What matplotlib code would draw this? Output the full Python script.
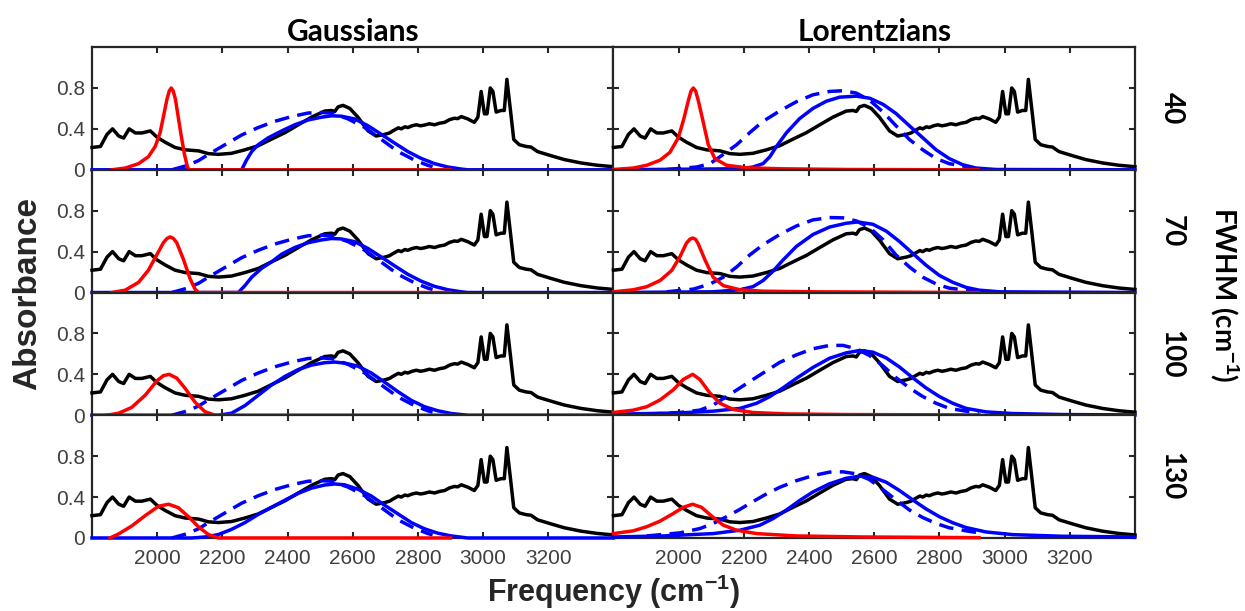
import matplotlib.pyplot as plt

plt.rcParams["font.family"] = ["Liberation Sans", "DejaVu Sans"]
plt.rcParams["mathtext.fontset"] = "custom"
plt.rcParams["mathtext.rm"] = "Liberation Sans"
plt.rcParams["mathtext.bf"] = "Liberation Sans:bold"

# Experimental spectrum (same trace in every panel)
exp_freq = [1800, 1826, 1846, 1863, 1882, 1897, 1914, 1933, 1953, 1979, 1999, 2024, 2055, 2086,
            2127, 2157, 2188, 2228, 2269, 2310, 2351, 2392, 2433, 2473, 2514, 2535, 2545, 2555, 2570,
            2591, 2616, 2647, 2672, 2698, 2713, 2723, 2740, 2749, 2760, 2769, 2782, 2795, 2808, 2820,
            2835, 2851, 2866, 2882, 2897, 2912, 2922, 2933, 2953, 2973, 2984, 2994, 3004, 3012, 3022,
            3030, 3040, 3055, 3065, 3073, 3084, 3094, 3111, 3132, 3147, 3167, 3208, 3249, 3300, 3351, 3400]
exp_abs = [0.218, 0.228, 0.346, 0.40, 0.33, 0.31, 0.40, 0.36, 0.36, 0.38, 0.32, 0.27, 0.218, 0.195,
           0.185, 0.158, 0.151, 0.161, 0.195, 0.235, 0.30, 0.363, 0.44, 0.514, 0.574, 0.58, 0.57, 0.615, 0.63,
           0.60, 0.514, 0.38, 0.33, 0.346, 0.36, 0.38, 0.41, 0.40, 0.42, 0.413, 0.43, 0.44, 0.43, 0.437,
           0.45, 0.44, 0.455, 0.464, 0.49, 0.504, 0.50, 0.52, 0.497, 0.464, 0.514, 0.766, 0.547, 0.547, 0.80,
           0.766, 0.564, 0.58, 0.58, 0.884, 0.58, 0.296, 0.245, 0.228, 0.222, 0.178, 0.138, 0.10, 0.067, 0.044, 0.03]

fwhm_labels = ["40", "70", "100", "130"]

# --- Gaussians ---
g40_red_f = [1861, 1902, 1943, 1973, 1994, 2009, 2022, 2030, 2037, 2043, 2049, 2056, 2063, 2073,
             2084, 2093, 2098, 2900]
g40_red_a = [0, 0.017, 0.06, 0.128, 0.228, 0.363, 0.565, 0.69, 0.77, 0.80, 0.77, 0.69, 0.547, 0.346,
             0.145, 0.027, 0, 0]
g70_red_f = [1861, 1902, 1943, 1973, 1999, 2019, 2030, 2040, 2050, 2060, 2081, 2101, 2116, 2127, 2900]
g70_red_a = [0, 0.023, 0.10, 0.218, 0.37, 0.487, 0.528, 0.544, 0.528, 0.487, 0.32, 0.134, 0.034, 0, 0]
g100_red_f = [1845, 1882, 1922, 1963, 1999, 2019, 2037, 2060, 2086, 2116, 2147, 2178, 2900]
g100_red_a = [0, 0.02, 0.077, 0.195, 0.336, 0.387, 0.40, 0.363, 0.262, 0.128, 0.034, 0, 0]
g130_red_f = [1855, 1882, 1922, 1963, 2004, 2035, 2065, 2096, 2127, 2157, 2188, 2900]
g130_red_a = [0, 0.04, 0.118, 0.218, 0.31, 0.33, 0.296, 0.208, 0.108, 0.034, 0, 0]

g40_blue_f = [1800, 2259, 2274, 2290, 2310, 2341, 2382, 2422, 2463, 2504, 2535, 2565, 2606, 2647,
              2688, 2728, 2769, 2810, 2851, 2892, 2933, 2953, 3400]
g40_blue_a = [0, 0, 0.094, 0.178, 0.245, 0.313, 0.38, 0.44, 0.487, 0.514, 0.528, 0.524, 0.497, 0.43,
              0.346, 0.262, 0.178, 0.111, 0.06, 0.027, 0.007, 0, 0]
g70_blue_f = [1800, 2249, 2269, 2290, 2320, 2351, 2382, 2422, 2463, 2504, 2535, 2565, 2606, 2647,
              2688, 2728, 2769, 2810, 2851, 2892, 2933, 2953, 3400]
g70_blue_a = [0, 0, 0.067, 0.15, 0.235, 0.30, 0.375, 0.44, 0.487, 0.514, 0.528, 0.524, 0.497, 0.43,
              0.346, 0.262, 0.178, 0.111, 0.06, 0.027, 0.007, 0, 0]
g100_blue_f = [1800, 2188, 2228, 2269, 2310, 2351, 2392, 2433, 2473, 2514, 2545, 2575, 2616, 2657,
               2698, 2739, 2780, 2820, 2861, 2902, 2953, 3400]
g100_blue_a = [0, 0, 0.02, 0.094, 0.195, 0.296, 0.38, 0.447, 0.49, 0.514, 0.52, 0.51, 0.48, 0.413,
               0.323, 0.23, 0.145, 0.084, 0.044, 0.017, 0, 0]
g130_blue_f = [1800, 2106, 2147, 2188, 2228, 2269, 2310, 2351, 2392, 2433, 2473, 2514, 2545, 2575,
               2616, 2657, 2698, 2739, 2780, 2820, 2861, 2902, 2953, 3400]
g130_blue_a = [0, 0, 0.01, 0.034, 0.084, 0.15, 0.23, 0.30, 0.37, 0.437, 0.487, 0.518, 0.528, 0.52,
               0.477, 0.41, 0.32, 0.235, 0.15, 0.09, 0.047, 0.02, 0, 0]

# the dashed Gaussian reference is the same for every width
g_dash_f = [2045, 2090, 2127, 2157, 2208, 2259, 2310, 2361, 2412, 2463, 2504, 2535, 2586, 2637,
            2688, 2739, 2790, 2830, 2845]
g_dash_a = [0.0, 0.04, 0.09, 0.15, 0.245, 0.34, 0.413, 0.474, 0.52, 0.555, 0.56, 0.555, 0.497, 0.413,
            0.296, 0.178, 0.094, 0.044, 0.03]

# --- Lorentzians ---
l40_red_f = [1800, 1861, 1902, 1943, 1973, 1999, 2016, 2030, 2038, 2045, 2052, 2060, 2073, 2091,
             2111, 2147, 2208, 2310, 2514, 2920]
l40_red_a = [0.003, 0.017, 0.044, 0.094, 0.17, 0.313, 0.50, 0.68, 0.77, 0.80, 0.77, 0.68, 0.50, 0.245,
             0.11, 0.044, 0.02, 0.01, 0.003, 0]
l70_red_f = [1800, 1861, 1902, 1943, 1979, 2004, 2024, 2034, 2043, 2052, 2060, 2081, 2106, 2137,
             2188, 2259, 2412, 2920]
l70_red_a = [0.007, 0.027, 0.057, 0.117, 0.217, 0.35, 0.483, 0.52, 0.533, 0.52, 0.477, 0.317, 0.15,
             0.067, 0.027, 0.013, 0.007, 0]
l100_red_f = [1800, 1861, 1902, 1943, 1984, 2014, 2043, 2065, 2096, 2127, 2167, 2228, 2331, 2514, 2922]
l100_red_a = [0.027, 0.05, 0.083, 0.15, 0.25, 0.35, 0.40, 0.35, 0.217, 0.117, 0.057, 0.027, 0.013,
              0.007, 0.003]
l130_red_f = [1800, 1861, 1902, 1943, 1984, 2014, 2043, 2070, 2101, 2137, 2178, 2239, 2361, 2565, 2922]
l130_red_a = [0.043, 0.07, 0.11, 0.165, 0.24, 0.30, 0.33, 0.30, 0.215, 0.125, 0.076, 0.043, 0.02,
              0.01, 0.003]

l40_blue_f = [1800, 2188, 2228, 2259, 2280, 2300, 2331, 2371, 2412, 2453, 2494, 2545, 2586, 2627,
              2667, 2708, 2749, 2790, 2830, 2871, 2912, 2973, 3400]
l40_blue_a = [0, 0.01, 0.027, 0.06, 0.128, 0.228, 0.363, 0.50, 0.60, 0.67, 0.71, 0.72, 0.70, 0.64,
              0.55, 0.43, 0.313, 0.195, 0.11, 0.05, 0.017, 0.003, 0]
l70_blue_f = [1800, 2106, 2188, 2228, 2259, 2290, 2320, 2361, 2412, 2463, 2514, 2550, 2596, 2637,
              2677, 2718, 2759, 2800, 2841, 2882, 2922, 2984, 3400]
l70_blue_a = [0, 0.007, 0.027, 0.057, 0.117, 0.21, 0.317, 0.45, 0.567, 0.64, 0.677, 0.69, 0.667, 0.60,
              0.50, 0.383, 0.267, 0.167, 0.10, 0.05, 0.023, 0.007, 0]
l100_blue_f = [1800, 2004, 2106, 2188, 2239, 2280, 2320, 2361, 2412, 2463, 2514, 2555, 2596, 2637,
               2677, 2718, 2759, 2800, 2841, 2882, 2943, 3024, 3177, 3400]
l100_blue_a = [0.01, 0.023, 0.04, 0.067, 0.117, 0.183, 0.267, 0.36, 0.467, 0.557, 0.61, 0.633, 0.617,
               0.56, 0.473, 0.367, 0.267, 0.183, 0.117, 0.067, 0.033, 0.017, 0.007, 0.003]
l130_blue_f = [1800, 1953, 2106, 2188, 2249, 2290, 2331, 2371, 2412, 2463, 2514, 2555, 2596, 2637,
               2677, 2718, 2759, 2800, 2841, 2882, 2943, 3024, 3177, 3400]
l130_blue_a = [0.01, 0.02, 0.043, 0.076, 0.125, 0.19, 0.274, 0.366, 0.45, 0.53, 0.584, 0.604, 0.594,
               0.545, 0.465, 0.373, 0.284, 0.208, 0.149, 0.102, 0.059, 0.033, 0.017, 0.01]

l40_dash_f = [1963, 2055, 2096, 2137, 2178, 2218, 2259, 2310, 2361, 2412, 2463, 2504, 2545, 2586,
              2627, 2667, 2708, 2749, 2790, 2830, 2871, 2902]
l40_dash_a = [0.003, 0.027, 0.06, 0.15, 0.245, 0.363, 0.474, 0.575, 0.665, 0.733, 0.766, 0.773, 0.75,
              0.68, 0.565, 0.43, 0.296, 0.195, 0.11, 0.06, 0.037, 0.023]
l70_dash_f = [1963, 2045, 2096, 2137, 2178, 2218, 2259, 2310, 2361, 2412, 2463, 2504, 2545, 2586,
              2627, 2667, 2708, 2749, 2790, 2830, 2882, 2922]
l70_dash_a = [0.007, 0.033, 0.083, 0.15, 0.25, 0.367, 0.467, 0.567, 0.65, 0.71, 0.733, 0.73, 0.70,
              0.633, 0.517, 0.367, 0.25, 0.15, 0.083, 0.043, 0.023, 0.013]
l100_dash_f = [1902, 2004, 2065, 2106, 2147, 2188, 2228, 2269, 2310, 2361, 2412, 2463, 2504, 2545,
               2586, 2627, 2667, 2708, 2749, 2790, 2830, 2882, 2922]
l100_dash_a = [0.01, 0.027, 0.05, 0.10, 0.183, 0.267, 0.35, 0.433, 0.517, 0.59, 0.65, 0.683, 0.683,
               0.65, 0.583, 0.483, 0.367, 0.267, 0.183, 0.117, 0.067, 0.04, 0.027]
l130_dash_f = [1902, 2004, 2065, 2106, 2147, 2188, 2228, 2269, 2310, 2361, 2412, 2463, 2504, 2545,
               2586, 2627, 2667, 2708, 2749, 2790, 2830, 2882, 2922]
l130_dash_a = [0.02, 0.05, 0.092, 0.142, 0.208, 0.28, 0.356, 0.43, 0.495, 0.56, 0.61, 0.644, 0.647,
               0.627, 0.57, 0.472, 0.373, 0.274, 0.2, 0.142, 0.1, 0.07, 0.05]

gauss = [
    (g40_red_f, g40_red_a, g40_blue_f, g40_blue_a, g_dash_f, g_dash_a),
    (g70_red_f, g70_red_a, g70_blue_f, g70_blue_a, g_dash_f, g_dash_a),
    (g100_red_f, g100_red_a, g100_blue_f, g100_blue_a, g_dash_f, g_dash_a),
    (g130_red_f, g130_red_a, g130_blue_f, g130_blue_a, g_dash_f, g_dash_a),
]
lorentz = [
    (l40_red_f, l40_red_a, l40_blue_f, l40_blue_a, l40_dash_f, l40_dash_a),
    (l70_red_f, l70_red_a, l70_blue_f, l70_blue_a, l70_dash_f, l70_dash_a),
    (l100_red_f, l100_red_a, l100_blue_f, l100_blue_a, l100_dash_f, l100_dash_a),
    (l130_red_f, l130_red_a, l130_blue_f, l130_blue_a, l130_dash_f, l130_dash_a),
]

axis_col = "#262626"
tick_col = "#404040"
lw = 2.5

fig, axes = plt.subplots(4, 2, figsize=(12.45, 6.11), dpi=100)
fig.subplots_adjust(left=0.0739, right=0.9116, top=0.923, bottom=0.1195, hspace=0, wspace=0)

for col, panels in enumerate([gauss, lorentz]):
    for row, (rf, ra, bf, ba, df, da) in enumerate(panels):
        ax = axes[row, col]
        ax.plot(exp_freq, exp_abs, color="black", lw=lw, zorder=3, clip_on=False, solid_joinstyle="round")
        ax.plot(df, da, color="#0000ff", lw=lw, ls=(0, (4.2, 2.4)), zorder=3, clip_on=False)
        ax.plot(bf, ba, color="#0000ff", lw=lw, zorder=3, clip_on=False, solid_joinstyle="round")
        ax.plot(rf, ra, color="#ff0000", lw=lw, zorder=3, clip_on=False, solid_joinstyle="round")

        ax.set_xlim(1800, 3400)
        ax.set_ylim(0, 1.2)
        ax.set_xticks([2000, 2200, 2400, 2600, 2800, 3000, 3200])
        ax.set_yticks([0, 0.4, 0.8])
        ax.set_yticklabels(["0", "0.4", "0.8"])
        ax.tick_params(direction="in", length=4.5, width=1.5, color=axis_col, labelcolor=tick_col,
                       labelsize=15, top=True, right=True)
        ax.tick_params(axis="y", pad=5)
        ax.tick_params(axis="x", pad=8)
        for sp in ax.spines.values():
            sp.set_color(axis_col)
            sp.set_linewidth(1.6)
        if col == 1:
            ax.tick_params(labelleft=False)
        if row < 3:
            ax.tick_params(labelbottom=False)
        if col == 1:
            ax.text(1.07, 0.5, fwhm_labels[row], transform=ax.transAxes, rotation=-90,
                    ha="center", va="center", fontsize=20, fontweight="bold", family="Lato")

axes[0, 0].set_title("Gaussians", fontsize=21.5, fontweight="bold", family="Lato", pad=4)
axes[0, 1].set_title("Lorentzians", fontsize=21.5, fontweight="bold", family="Lato", pad=4)

fig.text(0.022, 0.519, "Absorbance", rotation=90, ha="center", va="center", fontsize=24,
         fontweight="bold", color=axis_col)
fig.text(0.4925, 0.0147, "Frequency (cm$^{\\mathbf{-1}}$)", ha="center", va="baseline", fontsize=22,
         fontweight="bold", color=axis_col)
fig.text(0.983, 0.517, "FWHM (cm$^{\\mathbf{-1}}$)", rotation=-90, ha="center", va="center",
         fontsize=20, fontweight="bold", family="Lato")

plt.savefig("out.png", dpi=100)
